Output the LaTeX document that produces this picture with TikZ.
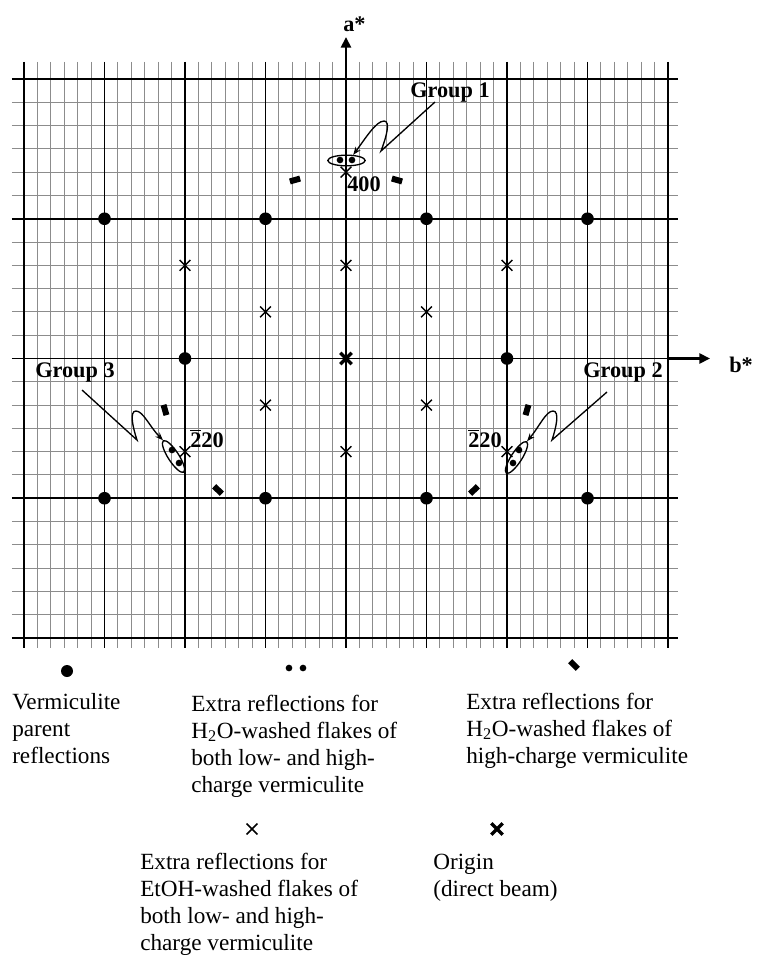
\documentclass[tikz,border=0pt]{standalone}
\usepackage{fontspec}
\setmainfont{Liberation Serif}
\usetikzlibrary{arrows.meta, shapes.geometric, shapes.misc}

\begin{document}
\begin{tikzpicture}[
    x=0.75pt, y=-0.75pt,
    fineline/.style={black!45, line width=0.8pt},
    majorline/.style={black, line width=1.4pt},
    vermdot/.style={circle, fill=black, inner sep=0pt, minimum size=9.5pt},
    pairdot/.style={circle, fill=black, inner sep=0pt, minimum size=5pt},
    etoh/.style={cross out, draw=black, line width=1.1pt, inner sep=0pt, minimum size=7pt},
    beam/.style={cross out, draw=black, line width=2.6pt, inner sep=0pt, minimum size=6pt},
    hwash/.style={rectangle, fill=black, inner sep=0pt, minimum width=8pt, minimum height=4.5pt},
    grpring/.style={ellipse, draw=black, line width=1pt, inner sep=0pt, minimum width=28pt, minimum height=8pt},
    grplabel/.style={inner sep=0pt, anchor=base west, font=\bfseries\fontsize{16.7}{20}\selectfont},
    legtext/.style={inner sep=0pt, anchor=base west, align=left, font=\fontsize{17.4}{20.25}\selectfont},
    grparrow/.style={-{Stealth[length=6pt, width=4.5pt]}, line width=1pt},
    axisarrow/.style={-{Triangle[length=8pt, width=7.5pt]}, line width=2.2pt}
  ]
  \useasboundingbox (0,0) rectangle (758,955);

  \begin{scope}[shift={(346,358.5)}, x=10.0625pt, y=-17.46875pt]
    \foreach \c in {-24,...,24}
      \draw[fineline] (\c,-12.73) -- (\c,12.45);
    \foreach \r in {-12,...,12}
      \draw[fineline] (-24.9,\r) -- (24.75,\r);
    \foreach \c in {-24,-18,...,24}
      \draw[majorline] (\c,-12.73) -- (\c,12.45);
    \foreach \r in {-12,-6,...,12}
      \draw[majorline] (-24.9,\r) -- (24.75,\r);
    \foreach \c/\r [count=\n] in {-18/-6,-6/-6,6/-6,18/-6,-12/0,12/0,-18/6,-6/6,6/6,18/6}
      \node[vermdot] (verm\n) at (\c,\r) {};
    \foreach \c/\r [count=\n] in {0/-8,-12/-4,0/-4,12/-4,-6/-2,6/-2,-6/2,6/2,-12/4,0/4,12/4}
      \node[etoh] (etoh\n) at (\c,\r) {};
    \node[beam] (org) at (0,0) {};
  \end{scope}

  \coordinate (aroot) at (346,79);
  \coordinate (atip) at (346,37);
  \coordinate (broot) at (668,358.5);
  \coordinate (btip) at (710,358.5);
  \draw[axisarrow] (aroot) -- (atip);
  \draw[axisarrow] (broot) -- (btip);
  \node[grplabel] (astar) at (343,32) {a*};
  \node[grplabel] (bstar) at (729,372) {b*};

  \node[hwash, rotate=16] (hw1) at (295,180) {};
  \node[hwash, rotate=-16] (hw2) at (397,180) {};
  \node[hwash, rotate=-74] (hw3) at (165,410) {};
  \node[hwash, rotate=-44] (hw4) at (218,490) {};
  \node[hwash, rotate=74] (hw5) at (527,410) {};
  \node[hwash, rotate=44] (hw6) at (474,490) {};

  \node[grpring] (ring1) at (346.5,160.5) {};
  \node[grpring, rotate=57] (ring2) at (516.5,457.5) {};
  \node[grpring, rotate=-57] (ring3) at (173.5,456.5) {};
  \node[pairdot] (dot1) at (340,160) {};
  \node[pairdot] (dot2) at (352,160) {};
  \node[pairdot] (dot3) at (519,450) {};
  \node[pairdot] (dot4) at (513,463) {};
  \node[pairdot] (dot5) at (172,450) {};
  \node[pairdot] (dot6) at (179,463) {};

  \node[grplabel] (hkl400) at (347,192) {400};
  \node[grplabel] (hklL) at (190,447) {$\overline{\mbox{2}}$20};
  \node[grplabel] (hklR) at (468,447) {$\overline{\mbox{2}}$20};

  \node[grplabel] (grp1) at (410,98) {Group 1};
  \node[grplabel] (grp2) at (583,377) {Group 2};
  \node[grplabel] (grp3) at (35,377) {Group 3};
  \coordinate (from1) at (435,102);
  \coordinate (from2) at (607,392);
  \coordinate (from3) at (82,390);
  \draw[grparrow] (from1) -- (381,151) .. controls (386,138) and (391,121) .. (384,121) .. controls (376,121) and (365,139) .. (ring1.40);
  \draw[grparrow] (from2) -- (552,440) .. controls (556,428) and (560,411) .. (553,411) .. controls (546,411) and (539,427) .. (ring2.east);
  \draw[grparrow] (from3) -- (137,440) .. controls (133,428) and (129,411) .. (136,411) .. controls (143,411) and (150,427) .. (ring3.west);

  \node[vermdot, minimum size=9pt] (legverm) at (67,671) {};
  \node[pairdot] (legdotA) at (289,668) {};
  \node[pairdot] (legdotB) at (303,668) {};
  \node[hwash, rotate=-45] (leghw) at (574,665) {};
  \node[etoh] (legetoh) at (252,829) {};
  \node[beam] (legorg) at (497,829) {};

  \node[legtext] (txtverm) at (12,763) {Vermiculite\\parent\\reflections};
  \node[legtext] (txtpair) at (191,792) {Extra reflections for\\H\textsubscript{2}O-washed flakes of\\both low- and high-\\charge vermiculite};
  \node[legtext] (txthw) at (466,763) {Extra reflections for\\H\textsubscript{2}O-washed flakes of\\high-charge vermiculite};
  \node[legtext] (txtetoh) at (140,950) {Extra reflections for\\EtOH-washed flakes of\\both low- and high-\\charge vermiculite};
  \node[legtext] (txtorg) at (433,896) {Origin\\(direct beam)};
\end{tikzpicture}
\end{document}
